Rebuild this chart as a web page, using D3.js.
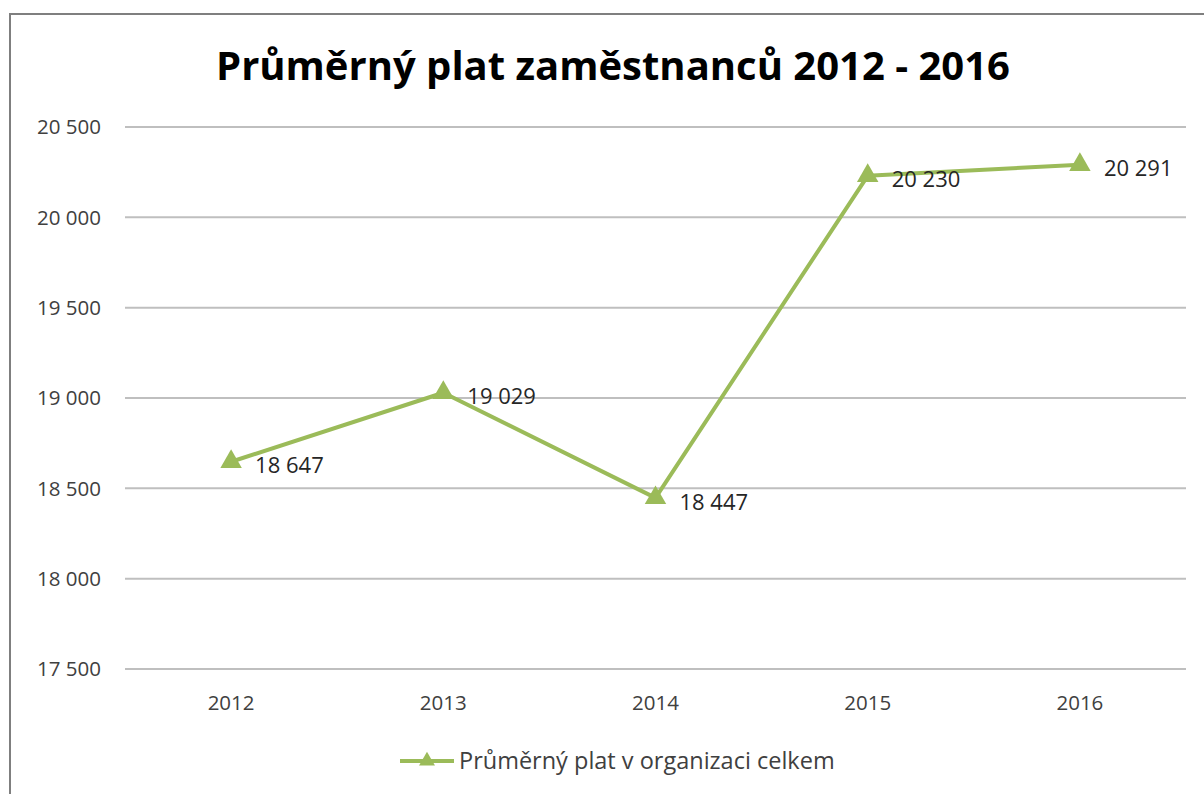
<!DOCTYPE html>
<meta charset="utf-8">
<style>
body { margin: 0; background: #fff; }
text { font-family: "Open Sans", "DejaVu Sans", sans-serif; }
.title { font-size: 40px; font-weight: bold; fill: #000; text-anchor: middle; }
.tick-label { font-size: 20.5px; fill: #404040; }
.value-label { font-size: 22px; fill: #262626; }
.legend-label { font-size: 23.5px; fill: #404040; }
</style>
<svg width="1204" height="794"></svg>
<script src="https://cdn.jsdelivr.net/npm/d3@7"></script>
<script>

var years = ["2012", "2013", "2014", "2015", "2016"];
var salaries = [18647, 19029, 18447, 20230, 20291];
var yTicks = [17500, 18000, 18500, 19000, 19500, 20000, 20500];
var seriesName = "Průměrný plat v organizaci celkem";
var chartTitle = "Průměrný plat zaměstnanců 2012 - 2016";

var green = "#9bbb59";

var svg = d3.select("svg"),
    margin = {left: 125, right: 18, top: 127, bottom: 125},
    width = +svg.attr("width") - margin.left - margin.right,
    height = +svg.attr("height") - margin.top - margin.bottom;

var cz = d3.formatLocale({decimal: ",", thousands: " ", grouping: [3], currency: ["", " Kč"]});
var fmt = cz.format(",d");

// chart frame (only top and left edges show in the crop)
svg.append("path")
    .attr("d", "M10,794 L10,14 L1204,14")
    .attr("fill", "none")
    .attr("stroke", "#7f7f7f")
    .attr("stroke-width", 2);

svg.append("text")
    .attr("class", "title")
    .attr("x", 613)
    .attr("y", 80)
    .text(chartTitle);

var x = d3.scaleBand().domain(years).range([0, width]);
var y = d3.scaleLinear().domain([17500, 20500]).range([height, 0]);

var g = svg.append("g").attr("transform", "translate(" + margin.left + "," + margin.top + ")");

// gridlines
g.selectAll("line.grid")
  .data(yTicks)
  .enter().append("line")
    .attr("class", "grid")
    .attr("x1", 0).attr("x2", width)
    .attr("y1", function(d) { return y(d); })
    .attr("y2", function(d) { return y(d); })
    .attr("stroke", "#bfbfbf")
    .attr("stroke-width", 2);

g.selectAll("text.ytick")
  .data(yTicks)
  .enter().append("text")
    .attr("class", "tick-label ytick")
    .attr("x", -24)
    .attr("y", function(d) { return y(d); })
    .attr("dy", "0.35em")
    .attr("text-anchor", "end")
    .text(function(d) { return fmt(d); });

g.selectAll("text.xtick")
  .data(years)
  .enter().append("text")
    .attr("class", "tick-label xtick")
    .attr("x", function(d) { return x(d) + x.bandwidth() / 2; })
    .attr("y", height + 41)
    .attr("text-anchor", "middle")
    .text(function(d) { return d; });

var line = d3.line()
    .x(function(d, i) { return x(years[i]) + x.bandwidth() / 2; })
    .y(function(d) { return y(d); });

g.append("path")
    .datum(salaries)
    .attr("d", line)
    .attr("fill", "none")
    .attr("stroke", green)
    .attr("stroke-width", 4)
    .attr("stroke-linejoin", "round");

var tri = d3.symbol().type(d3.symbolTriangle).size(200);

g.selectAll("path.marker")
  .data(salaries)
  .enter().append("path")
    .attr("class", "marker")
    .attr("d", tri)
    .attr("fill", green)
    .attr("transform", function(d, i) {
      return "translate(" + (x(years[i]) + x.bandwidth() / 2) + "," + y(d) + ")";
    });

g.selectAll("text.value")
  .data(salaries)
  .enter().append("text")
    .attr("class", "value-label value")
    .attr("x", function(d, i) { return x(years[i]) + x.bandwidth() / 2 + 24; })
    .attr("y", function(d) { return y(d) + 4; })
    .attr("dy", "0.35em")
    .text(function(d) { return fmt(d); });

// legend
var legend = svg.append("g").attr("transform", "translate(400,761)");
legend.append("line")
    .attr("x1", 0).attr("x2", 54)
    .attr("stroke", green)
    .attr("stroke-width", 4);
legend.append("path")
    .attr("d", d3.symbol().type(d3.symbolTriangle).size(110))
    .attr("fill", green)
    .attr("transform", "translate(27,0)");
legend.append("text")
    .attr("class", "legend-label")
    .attr("x", 59)
    .attr("dy", "0.35em")
    .text(seriesName);

</script>
